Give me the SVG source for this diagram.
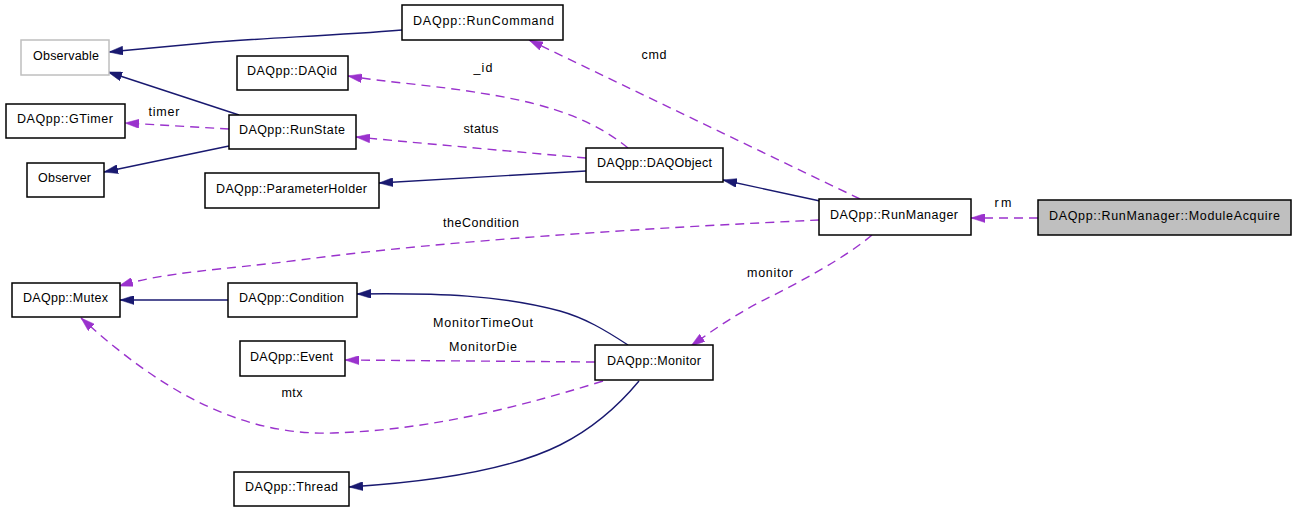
<svg xmlns="http://www.w3.org/2000/svg" width="1296" height="512" viewBox="0 0 1296 512">
<style>
.node rect{fill:#ffffff;stroke:#000000;stroke-width:1.5}
.node.gray rect{stroke:#bfbfbf}
.node.focus rect{fill:#bfbfbf}
text{font-family:"Liberation Sans",Arial,Helvetica,sans-serif;font-size:12.5px;fill:#000000;text-anchor:middle}
.e{fill:none;stroke-width:1.4}
.inh{stroke:#191970;marker-end:url(#ab)}
.use{stroke:#9a32cd;stroke-dasharray:9,6;marker-end:url(#ap)}
</style>
<defs>
<marker id="ab" markerUnits="userSpaceOnUse" markerWidth="14" markerHeight="9" viewBox="0 0 14 9" refX="14" refY="4.5" orient="auto">
<path d="M0,0 L14,4.5 L0,9 z" fill="#191970" stroke="#191970" stroke-width="0.5"/>
</marker>
<marker id="ap" markerUnits="userSpaceOnUse" markerWidth="14" markerHeight="9" viewBox="0 0 14 9" refX="14" refY="4.5" orient="auto">
<path d="M0,0 L14,4.5 L0,9 z" fill="#9a32cd" stroke="#9a32cd" stroke-width="0.5"/>
</marker>
</defs>
<rect width="1296" height="512" fill="#ffffff"/>
<g id="edges">
<path class="e inh" d="M402,30 C330,36 260,38 205,43 C170,46 140,49 109,52"/>
<path class="e inh" d="M239,115 L108,72"/>
<path class="e use" d="M229,129 C195,127 160,125 125,123"/>
<path class="e inh" d="M229,146 L104,172"/>
<path class="e use" d="M628,148 C600,125 560,105 480,93 C440,86 385,82 348,76"/>
<path class="e use" d="M586,158 C520,152 440,145 356,137"/>
<path class="e inh" d="M586,171 L379,183"/>
<path class="e inh" d="M820,201 L723,180"/>
<path class="e use" d="M860,199 L529,40"/>
<path class="e use" d="M819,220 C650,228 450,240 300,260 C220,270 165,272 119,286"/>
<path class="e use" d="M872,235 C845,258 800,282 760,302 C735,315 713,330 691,346"/>
<path class="e use" d="M1038,218 L971,218"/>
<path class="e inh" d="M228,300 L120,300"/>
<path class="e inh" d="M628,345 C605,330 585,318 560,311 C500,295 440,293 357,294"/>
<path class="e use" d="M595,362 L345,360"/>
<path class="e use" d="M603,381 C500,413 420,430 333,433 C240,436 160,390 81,318"/>
<path class="e inh" d="M639,381 C615,410 590,430 560,445 C510,470 430,482 349,487"/>
<text x="654" y="59" textLength="25">cmd</text>
<text x="483" y="72" textLength="19">_id</text>
<text x="481" y="133" textLength="35">status</text>
<text x="481" y="227" textLength="76">theCondition</text>
<text x="164" y="116" textLength="31">timer</text>
<text x="1003" y="207" textLength="17">rm</text>
<text x="770" y="277" textLength="46">monitor</text>
<text x="483" y="327" textLength="100">MonitorTimeOut</text>
<text x="483" y="351" textLength="68">MonitorDie</text>
<text x="292" y="397" textLength="21">mtx</text>
</g>
<g id="Observable" class="node gray"><rect x="21" y="40" width="88" height="35"/><text x="66" y="59.5" textLength="66">Observable</text></g>
<g id="DAQid" class="node"><rect x="237" y="56" width="111" height="34"/><text x="292" y="75" textLength="90">DAQpp::DAQid</text></g>
<g id="GTimer" class="node"><rect x="6" y="104" width="119" height="34"/><text x="65" y="123" textLength="96">DAQpp::GTimer</text></g>
<g id="RunState" class="node"><rect x="229" y="115" width="127" height="34"/><text x="292" y="134" textLength="106">DAQpp::RunState</text></g>
<g id="Observer" class="node"><rect x="27" y="163" width="77" height="34"/><text x="64.5" y="182" textLength="53">Observer</text></g>
<g id="ParameterHolder" class="node"><rect x="205" y="173" width="174" height="35"/><text x="291.5" y="192.5" textLength="151">DAQpp::ParameterHolder</text></g>
<g id="RunCommand" class="node"><rect x="402" y="5" width="161" height="35"/><text x="483.5" y="24.5" textLength="141">DAQpp::RunCommand</text></g>
<g id="DAQObject" class="node"><rect x="586" y="148" width="137" height="34"/><text x="654.5" y="167" textLength="115">DAQpp::DAQObject</text></g>
<g id="RunManager" class="node"><rect x="819" y="199" width="152" height="36"/><text x="894" y="219" textLength="128">DAQpp::RunManager</text></g>
<g id="ModuleAcquire" class="node focus"><rect x="1038" y="200" width="253" height="35"/><text x="1164.5" y="219.5" textLength="231">DAQpp::RunManager::ModuleAcquire</text></g>
<g id="Mutex" class="node"><rect x="12" y="283" width="108" height="34"/><text x="65.5" y="302" textLength="85">DAQpp::Mutex</text></g>
<g id="Condition" class="node"><rect x="228" y="283" width="129" height="34"/><text x="291.5" y="302" textLength="105">DAQpp::Condition</text></g>
<g id="Event" class="node"><rect x="240" y="341" width="105" height="35"/><text x="291.5" y="360.5" textLength="83">DAQpp::Event</text></g>
<g id="Thread" class="node"><rect x="234" y="472" width="115" height="34"/><text x="291.5" y="491" textLength="93">DAQpp::Thread</text></g>
<g id="Monitor" class="node"><rect x="595" y="345" width="118" height="35"/><text x="654" y="364.5" textLength="94">DAQpp::Monitor</text></g>
</svg>
